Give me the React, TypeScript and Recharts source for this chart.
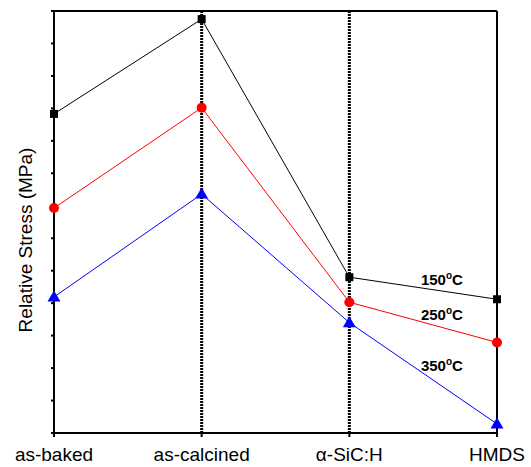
import { LineChart, Line, XAxis, YAxis, ReferenceLine, ReferenceDot } from "recharts";

const categories = ["as-baked", "as-calcined", "α-SiC:H", "HMDS"];
const stress150 = [9.83, 12.75, 4.8, 4.12];
const stress250 = [6.93, 10.02, 4.03, 2.79];
const stress350 = [4.19, 7.36, 3.4, 0.28];
const yTicks = [0, 1, 2, 3, 4, 5, 6, 7, 8, 9, 10, 11, 12, 13];
const tempLabels = ["150", "250", "350"];
const tempLabelX = 2.627;
const tempLabelY = [4.56, 3.48, 1.91];

const data = categories.map((c, i) => ({
  x: i,
  name: c,
  t150: stress150[i],
  t250: stress250[i],
  t350: stress350[i],
}));

const FONT = "'Liberation Sans', Arial, sans-serif";

function Square(props: any) {
  const { cx, cy, index } = props;
  return <rect key={`s${index}`} x={cx - 4} y={cy - 4} width={8} height={8} fill="#000" />;
}

function Circle(props: any) {
  const { cx, cy, index } = props;
  return <circle key={`c${index}`} cx={cx} cy={cy} r={5} fill="#ff0000" />;
}

function Triangle(props: any) {
  const { cx, cy, index } = props;
  return (
    <polygon
      key={`t${index}`}
      points={`${cx},${cy - 6.5} ${cx - 6.5},${cy + 4.5} ${cx + 6.5},${cy + 4.5}`}
      fill="#0000ff"
    />
  );
}

function TempLabel({ cx, cy, text }: any) {
  return (
    <text x={cx} y={cy} textAnchor="middle" fontFamily={FONT} fontWeight="bold" fontSize={15} fill="#000">
      {text}
      <tspan fontSize={10} dy={-6}>o</tspan>
      <tspan dy={6}>C</tspan>
    </text>
  );
}

function YTitle(props: any) {
  const { viewBox } = props;
  const cx = viewBox.x + viewBox.width / 2 - 2;
  const cy = viewBox.y + viewBox.height / 2 + 18;
  return (
    <text
      x={cx}
      y={cy}
      transform={`rotate(-90, ${cx}, ${cy})`}
      textAnchor="middle"
      dominantBaseline="central"
      fontFamily={FONT}
      fontSize={19}
      fill="#000"
    >
      Relative Stress (MPa)
    </text>
  );
}

export default function App() {
  return (
    <div style={{ position: "absolute", left: 0, top: 0, width: 531, height: 467, background: "#fff" }}>
      <LineChart width={531} height={467} data={data} margin={{ top: 11, right: 0, bottom: 0, left: 0 }}>
        <XAxis
          dataKey="x"
          type="number"
          domain={[0, 3]}
          ticks={[0, 1, 2, 3]}
          tickFormatter={(v: number) => categories[v]}
          height={34}
          tickSize={4}
          tickMargin={11}
          stroke="#000"
          strokeWidth={2}
          tick={{ fill: "#000", fontSize: 19, fontFamily: FONT }}
          interval={0}
        />
        <YAxis
          yAxisId="l"
          type="number"
          domain={[0, 13]}
          ticks={yTicks}
          width={54}
          tickSize={3}
          tickFormatter={() => ""}
          stroke="#000"
          strokeWidth={2}
          label={{ content: YTitle }}
        />
        <YAxis
          yAxisId="r"
          orientation="right"
          type="number"
          domain={[0, 13]}
          ticks={yTicks}
          width={34}
          tickSize={3}
          tickFormatter={() => ""}
          stroke="#000"
          strokeWidth={2}
        />
        <ReferenceLine yAxisId="l" y={13} stroke="#000" strokeWidth={2} />
        <ReferenceLine yAxisId="l" x={1} stroke="#000" strokeWidth={3} strokeDasharray="2 1" />
        <ReferenceLine yAxisId="l" x={2} stroke="#000" strokeWidth={3} strokeDasharray="2 1" />
        <Line yAxisId="l" dataKey="t150" stroke="#000" strokeWidth={1} dot={Square} isAnimationActive={false} />
        <Line yAxisId="l" dataKey="t250" stroke="#ff0000" strokeWidth={1} dot={Circle} isAnimationActive={false} />
        <Line yAxisId="l" dataKey="t350" stroke="#0000ff" strokeWidth={1} dot={Triangle} isAnimationActive={false} />
        {tempLabels.map((t, i) => (
          <ReferenceDot
            key={t}
            yAxisId="l"
            x={tempLabelX}
            y={tempLabelY[i]}
            r={0}
            shape={(p: any) => <TempLabel cx={p.cx} cy={p.cy} text={t} />}
          />
        ))}
      </LineChart>
    </div>
  );
}
